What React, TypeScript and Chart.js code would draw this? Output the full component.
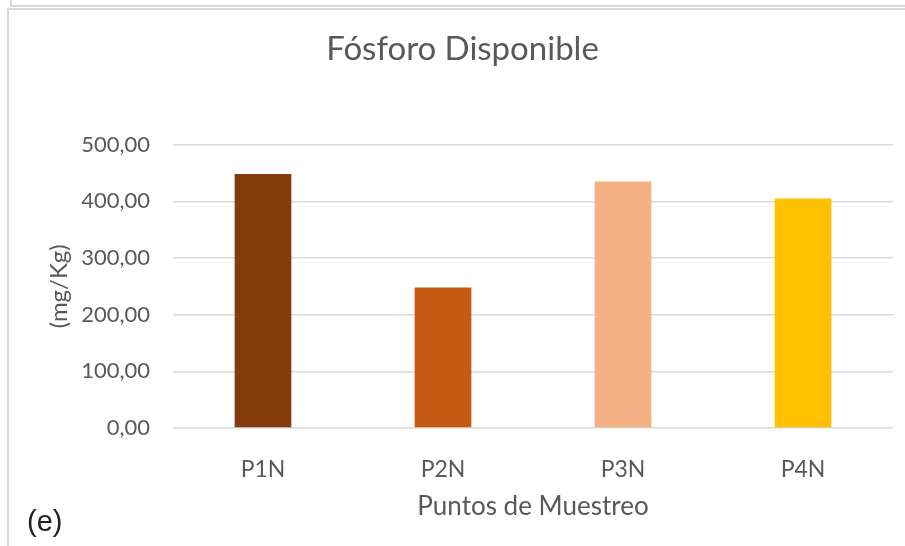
import React, { useEffect, useRef } from "react";
import { Chart, registerables } from "chart.js";

Chart.register(...registerables);

const categories = ["P1N", "P2N", "P3N", "P4N"];
const values = [448, 248, 435, 405];
const barColors = ["#843C0C", "#C55A11", "#F4B183", "#FFC000"];
const yTicks = [0, 100, 200, 300, 400, 500];

const FONT = "Lato, 'Open Sans', sans-serif";
const TXT = "#595959";

export default function App() {
  const ref = useRef<HTMLCanvasElement | null>(null);

  useEffect(() => {
    document.body.style.margin = "0";
    const canvas = ref.current!;
    const chart = new Chart(canvas, {
      type: "bar",
      data: {
        labels: categories,
        datasets: [
          {
            data: values,
            backgroundColor: barColors,
            borderWidth: 0,
            categoryPercentage: 1,
            barPercentage: 0.315,
          },
        ],
      },
      options: {
        animation: false,
        responsive: false,
        maintainAspectRatio: false,
        devicePixelRatio: 1,
        layout: { padding: { left: 32, right: 12, top: 0, bottom: 0 } },
        plugins: {
          legend: { display: false },
          tooltip: { enabled: false },
          title: {
            display: true,
            text: "Fósforo Disponible",
            color: TXT,
            font: { family: FONT, size: 33, weight: "normal" },
            padding: { top: 30, bottom: 75 },
          },
        },
        scales: {
          x: {
            grid: { display: false },
            border: { display: false },
            ticks: {
              color: TXT,
              font: { family: FONT, size: 23 },
              padding: 20,
            },
            title: {
              display: true,
              text: "Puntos de Muestreo",
              color: TXT,
              font: { family: FONT, size: 26 },
              padding: { top: 0, bottom: 24 },
            },
            afterFit: (scale: any) => {
              scale.height = 118;
            },
          },
          y: {
            min: 0,
            max: 500,
            afterBuildTicks: (scale: any) => {
              scale.ticks = yTicks.map((v) => ({ value: v }));
            },
            grid: { color: "#d9d9d9", lineWidth: 1.5, drawTicks: false },
            border: { display: false },
            ticks: {
              color: TXT,
              font: { family: FONT, size: 22 },
              padding: 23,
              callback: (v: any) =>
                Number(v).toFixed(2).replace(".", ","),
            },
            title: {
              display: true,
              text: "(mg/Kg)",
              color: TXT,
              font: { family: FONT, size: 24 },
              padding: { top: 13, bottom: 0 },
            },
            afterFit: (scale: any) => {
              scale.width = 141;
            },
          },
        },
      },
    });
    return () => chart.destroy();
  }, []);

  return (
    <div
      style={{
        position: "fixed",
        left: 0,
        top: 0,
        width: 905,
        height: 546,
        background: "#fff",
        overflow: "hidden",
      }}
    >
      <div
        style={{
          position: "absolute",
          left: 10,
          top: -30,
          width: 1000,
          height: 33,
          border: "2px solid #dadada",
        }}
      />
      <div
        style={{
          position: "absolute",
          left: 7,
          top: 8,
          width: 1000,
          height: 700,
          border: "2px solid #dadada",
        }}
      />
      <canvas
        ref={ref}
        width={905}
        height={546}
        style={{ position: "absolute", left: 0, top: 0, width: 905, height: 546 }}
      />
      <div
        style={{
          position: "absolute",
          left: 27,
          top: 504,
          fontFamily: "'Liberation Sans', Arial, sans-serif",
          fontSize: 29,
          color: "#222",
          lineHeight: "34px",
        }}
      >
        (e)
      </div>
    </div>
  );
}
